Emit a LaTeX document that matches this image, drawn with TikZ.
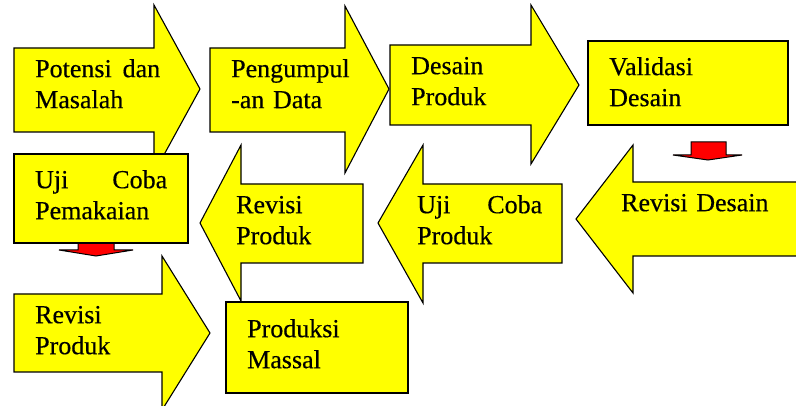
\documentclass[tikz,border=0pt]{standalone}
\usepackage{fontspec}
\setmainfont{Liberation Serif}[FakeBold=0.4]
\definecolor{yel}{RGB}{255,255,0}
\definecolor{rd}{RGB}{255,0,0}
\begin{document}
\begin{tikzpicture}[x=1pt,y=-1pt,
  blk/.style={draw=black,line width=1.1pt,fill=yel,line join=miter},
  redarr/.style={draw=black,line width=1pt,fill=rd,line join=miter},
  lbl/.style={anchor=north west,inner sep=0pt,text width=175pt,align=left,
    font=\rmfamily\fontsize{26}{31}\selectfont}]
\useasboundingbox (0,0) rectangle (796,406);
\clip (0,0) rectangle (796,406);
% row 1
\draw[blk] (14,48) -- (154,48) -- (154,5) -- (200,89) -- (154,173) -- (154,132) -- (14,132) -- cycle;
\draw[blk] (210,48) -- (345,48) -- (345,6) -- (389,89) -- (345,173) -- (345,132) -- (210,132) -- cycle;
\draw[blk] (390,45) -- (531,45) -- (531,5) -- (579,85) -- (531,164) -- (531,125) -- (390,125) -- cycle;
\draw[blk] (588,41) rectangle (788,125);
\draw[redarr] (691,142) -- (726,142) -- (726,155) -- (742,155) -- (708,160) -- (673,155) -- (691,155) -- cycle;
% row 2
\draw[blk] (576,219) -- (633,145) -- (633,182) -- (805,182) -- (805,256) -- (633,256) -- (633,293) -- cycle;
\draw[blk] (378,223) -- (423,145) -- (423,184) -- (562,184) -- (562,263) -- (423,263) -- (423,303) -- cycle;
\draw[blk] (200,223) -- (241,145) -- (241,184) -- (363,184) -- (363,263) -- (241,263) -- (241,301) -- cycle;
\draw[redarr] (78,243) -- (114,243) -- (114,250) -- (133,250) -- (96,256) -- (59,250) -- (78,250) -- cycle;
\draw[blk] (14,154) rectangle (188,243);
% row 3
\draw[blk] (14,294) -- (162,294) -- (162,256) -- (210,333) -- (162,410) -- (162,372) -- (14,372) -- cycle;
\draw[blk] (226,302) rectangle (408,393);
% labels
\node[lbl] (t1) at (35,55.3) {\strut\makebox[125pt][l]{Potensi\hfill dan}\\Masalah};
\node[lbl] (t2) at (231,55.3) {\strut Pengumpul\\-an Data};
\node[lbl] (t3) at (411,52.3) {\strut Desain\\Produk};
\node[lbl] (t4) at (609,53.3) {\strut Validasi\\Desain};
\node[lbl] (t5) at (35,166.3) {\strut\makebox[132pt][l]{Uji\hfill Coba}\\Pemakaian};
\node[lbl] (t6) at (236,191.3) {\strut Revisi\\Produk};
\node[lbl] (t7) at (417,191.3) {\strut\makebox[125pt][l]{Uji\hfill Coba}\\Produk};
\node[lbl] (t8) at (621,189.3) {\strut Revisi Desain};
\node[lbl] (t9) at (35,301.3) {\strut Revisi\\Produk};
\node[lbl] (t10) at (247,315.3) {\strut Produksi\\Massal};
\end{tikzpicture}
\end{document}
